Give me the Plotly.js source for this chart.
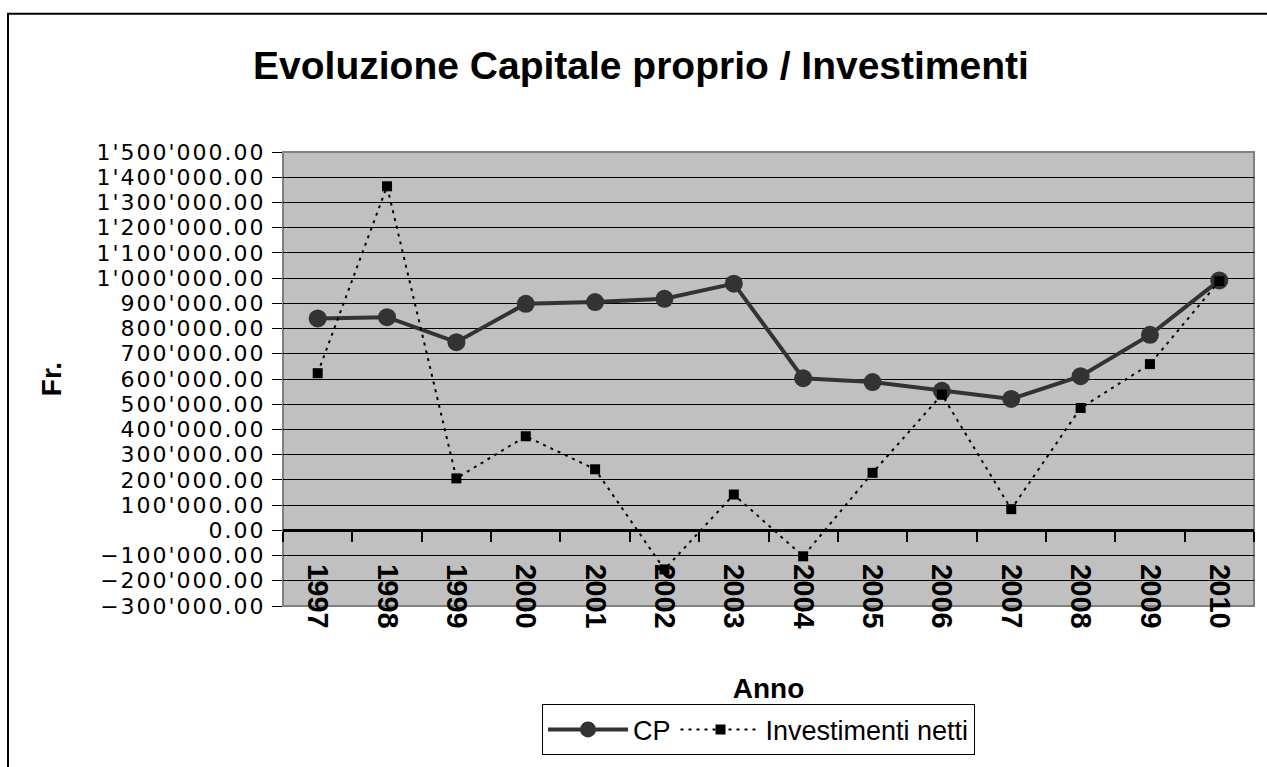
<!DOCTYPE html>
<html>
<head>
<meta charset="utf-8">
<script src="https://cdn.plot.ly/plotly-3.0.1.min.js"></script>
<style>
html,body{margin:0;padding:0;background:#fff;}
#chart{width:1267px;height:767px;}
#chart .ytick text{letter-spacing:2px;}
</style>
</head>
<body>
<div id="chart"></div>
<script>
const years = ["1997","1998","1999","2000","2001","2002","2003","2004","2005","2006","2007","2008","2009","2010"];
const cpValues = [840000, 845000, 746000, 898000, 905000, 918000, 978000, 603000, 588000, 553000, 521000, 611000, 775000, 991000];
const invValues = [623000, 1364000, 206000, 373000, 242000, -155000, 142000, -103000, 228000, 538000, 84000, 485000, 659000, 988000];
const seriesNames = ["CP", "Investimenti netti"];
const yMin = -300000, yMax = 1500000;

const W = 1267, H = 767;
const M = {l: 283, r: 13, t: 152, b: 149};
const pw = W - M.l - M.r, ph = H - M.t - M.b;
const px = v => (v - M.l) / pw;
const py = v => (H - M.b - v) / ph;
const FONT = "Liberation Sans, Arial, sans-serif";
const TICKFONT = "DejaVu Sans, Liberation Sans, sans-serif";

const traces = [
  {
    x: years, y: cpValues, name: seriesNames[0], type: "scatter", mode: "lines+markers",
    line: {color: "#333333", width: 4},
    marker: {symbol: "circle", size: 18, color: "#333333"}
  },
  {
    x: years, y: invValues, name: seriesNames[1], type: "scatter", mode: "lines+markers",
    line: {color: "#000000", width: 2, dash: "3px,5px"},
    marker: {symbol: "square", size: 10, color: "#000000"}
  }
];

const layout = {
  width: W, height: H,
  margin: M,
  paper_bgcolor: "#ffffff",
  plot_bgcolor: "#C0C0C0",
  separators: ".'",
  font: {family: FONT, color: "#000000", size: 26},
  title: {text: "<b>Evoluzione Capitale proprio / Investimenti</b>", font: {family: FONT, size: 39, color: "#000"},
          x: 641 / W, xanchor: "center", y: 1 - 65 / H, yanchor: "middle", xref: "container", yref: "container"},
  showlegend: true,
  legend: {orientation: "h", x: px(758.5), xanchor: "center", y: py(719), yanchor: "top",
           bordercolor: "#000", borderwidth: 1, bgcolor: "#fff", font: {family: FONT, size: 27}, itemwidth: 80},
  xaxis: {
    type: "category", range: [-0.5, years.length - 0.5],
    anchor: "free", position: (0 - yMin) / (yMax - yMin),
    showline: true, linecolor: "#000", linewidth: 3,
    ticks: "outside", tickson: "boundaries", ticklen: 10, tickwidth: 2, tickcolor: "#000",
    tickangle: 90, tickfont: {family: FONT, size: 29, color: "#000", weight: "bold"},
    ticklabelstandoff: 26,
    showgrid: false, zeroline: false,
    title: {text: "<b>Anno</b>", font: {family: FONT, size: 28}, standoff: 50}
  },
  yaxis: {
    range: [yMin, yMax], dtick: 100000, tick0: 0, tickformat: ",.2f",
    showgrid: true, gridcolor: "#000", gridwidth: 1, zeroline: false,
    showline: true, linecolor: "#808080", linewidth: 1, mirror: true,
    ticks: "outside", ticklen: 10, tickwidth: 1, tickcolor: "#000",
    tickfont: {family: TICKFONT, size: 22, color: "#000"}, ticklabelstandoff: 2,
    title: {text: "<b>Fr.</b>", font: {family: FONT, size: 28}, standoff: 50}
  },
  shapes: [
    {type: "rect", xref: "paper", yref: "paper", x0: px(8), x1: px(1300), y0: py(10), y1: py(800),
     line: {color: "#000", width: 2}, fillcolor: "rgba(0,0,0,0)", layer: "below"},
    {type: "rect", xref: "paper", yref: "paper", x0: 0, x1: 1, y0: 0, y1: 1,
     line: {color: "#808080", width: 2}, fillcolor: "rgba(0,0,0,0)", layer: "below"}
  ]
};

Plotly.newPlot("chart", traces, layout, {displayModeBar: false, staticPlot: true});
</script>
</body>
</html>
